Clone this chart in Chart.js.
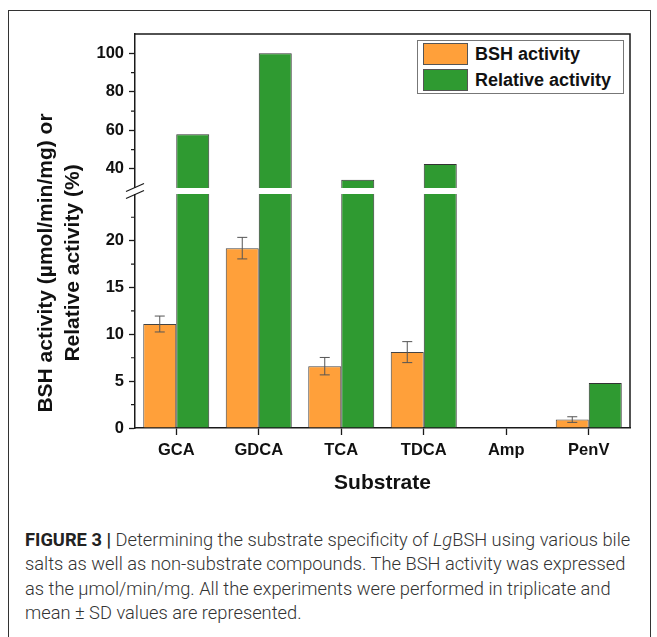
<!DOCTYPE html>
<html>
<head>
<meta charset="utf-8">
<script src="https://cdn.jsdelivr.net/npm/chart.js@4.4.0/dist/chart.umd.min.js"></script>
<style>
  html, body { margin: 0; padding: 0; background: #fff; }
  body { width: 657px; height: 637px; position: relative; overflow: hidden; font-family: 'Liberation Sans', Arial, sans-serif; }
  #frame { position: absolute; left: 8px; top: 10px; width: 643px; height: 640px; border: 1.3px solid #333; box-sizing: border-box; }
  #chartBox { position: absolute; left: 0; top: 0; width: 657px; height: 500px; }
  #legend { position: absolute; left: 417px; top: 40px; width: 207px; height: 54px; border: 1px solid #777; box-sizing: border-box; background: #fff; }
  .item { position: absolute; left: 5px; height: 23px; font-weight: bold; font-size: 18px; color: #111; line-height: 23px; white-space: nowrap; }
  .sw { display: inline-block; width: 45px; height: 22px; border: 1px solid #555; box-sizing: border-box; vertical-align: top; margin-right: 7px; }
  #caption { position: absolute; left: 25px; top: 528px; font-family: 'Roboto', 'Liberation Sans', sans-serif; font-weight: 300; font-size: 18.3px; line-height: 24.3px; color: #333; white-space: nowrap; }
  #caption b { font-weight: bold; color: #222; }
</style>
</head>
<body>
<div id="frame"></div>
<div id="chartBox"><canvas id="bshChart" width="657" height="500"></canvas></div>
<div id="legend">
  <div class="item" style="top:2px"><span class="sw" style="background:#FFA03A"></span>BSH activity</div>
  <div class="item" style="top:28px"><span class="sw" style="background:#2F9A31"></span>Relative activity</div>
</div>
<div id="caption">
  <div><b>FIGURE 3 |</b> Determining the substrate specificity of <i>Lg</i>BSH using various bile</div>
  <div>salts as well as non-substrate compounds. The BSH activity was expressed</div>
  <div>as the µmol/min/mg. All the experiments were performed in triplicate and</div>
  <div>mean ± SD values are represented.</div>
</div>
<script>
// Substrate specificity data
const substrates = ['GCA', 'GDCA', 'TCA', 'TDCA', 'Amp', 'PenV'];
const bshActivity = [11.1, 19.2, 6.6, 8.1, 0, 0.9];
const bshError = [0.85, 1.15, 0.93, 1.12, 0, 0.3];
const relativeActivity = [58, 100, 34.3, 42.5, 0, 4.8];

// Broken axis ranges and ticks
const topRange = [28.5, 110];
const bottomRange = [0, 25.3];
const topTicks = [40, 60, 80, 100];
const bottomTicks = [0, 5, 10, 15, 20];
const topMinor = [50, 70, 90];
const bottomMinor = [2.5, 7.5, 12.5, 17.5, 22.5];

const ORANGE = '#FFA03A';
const GREEN = '#2F9A31';
const AXIS = '#1a1a1a';

// split relative activity over the two axis segments
const relTop = relativeActivity.map(v => v > topRange[0] ? v : null);
const relBottom = relativeActivity.map(v => Math.min(v, bottomRange[1]));

const brokenAxis = {
    id: 'brokenAxis',
    afterDatasetsDraw(chart) {
        const { ctx, chartArea: a, scales } = chart;
        const yTop = scales.yTop, yBot = scales.yBottom;
        ctx.save();

        // error bars on BSH activity
        ctx.strokeStyle = '#555';
        ctx.lineWidth = 1;
        chart.getDatasetMeta(0).data.forEach((bar, i) => {
            if (!bshError[i]) return;
            const hi = yBot.getPixelForValue(bshActivity[i] + bshError[i]);
            const lo = yBot.getPixelForValue(bshActivity[i] - bshError[i]);
            ctx.beginPath();
            ctx.moveTo(bar.x, hi); ctx.lineTo(bar.x, lo);
            ctx.moveTo(bar.x - 5, hi); ctx.lineTo(bar.x + 5, hi);
            ctx.moveTo(bar.x - 5, lo); ctx.lineTo(bar.x + 5, lo);
            ctx.stroke();
        });

        // white break band
        const yb = yTop.bottom;
        ctx.fillStyle = '#fff';
        ctx.fillRect(a.left - 3, yb - 3, a.right - a.left + 2, 6);

        // break marks
        ctx.strokeStyle = AXIS;
        ctx.lineWidth = 1.3;
        [-3.5, 3.5].forEach(d => {
            ctx.beginPath();
            ctx.moveTo(a.left - 9, yb + d + 4);
            ctx.lineTo(a.left + 9, yb + d - 4);
            ctx.stroke();
        });

        // minor ticks
        ctx.lineWidth = 1.2;
        ctx.beginPath();
        topMinor.forEach(v => {
            const y = yTop.getPixelForValue(v);
            ctx.moveTo(a.left - 4, y); ctx.lineTo(a.left, y);
        });
        bottomMinor.forEach(v => {
            const y = yBot.getPixelForValue(v);
            ctx.moveTo(a.left - 4, y); ctx.lineTo(a.left, y);
        });
        ctx.stroke();

        // top and right frame
        ctx.lineWidth = 1.5;
        ctx.beginPath();
        ctx.moveTo(a.left, a.top);
        ctx.lineTo(a.right, a.top);
        ctx.lineTo(a.right, a.bottom);
        ctx.stroke();

        // y axis title
        ctx.fillStyle = '#111';
        ctx.font = 'bold 21px "Liberation Sans", Arial, sans-serif';
        ctx.textAlign = 'center';
        ctx.textBaseline = 'middle';
        ctx.translate(0, 263);
        ctx.rotate(-Math.PI / 2);
        ctx.fillText('BSH activity (µmol/min/mg) or', 0, 46);
        ctx.fillText('Relative activity (%)', 0, 73);
        ctx.restore();
    }
};

const tickFont = { family: '"Liberation Sans", Arial, sans-serif', size: 16.5, weight: 'bold' };

function yAxis(range, ticks, weight) {
    return {
        type: 'linear',
        position: 'left',
        stack: 'y',
        stackWeight: weight,
        stacked: false,
        min: range[0],
        max: range[1],
        afterBuildTicks: axis => { axis.ticks = ticks.map(v => ({ value: v })); },
        afterFit: axis => { axis.width = 135; },
        border: { display: true, color: AXIS, width: 1.5 },
        grid: { display: true, drawOnChartArea: false, drawTicks: true, tickLength: 6, color: AXIS, tickWidth: 1.3 },
        ticks: { font: tickFont, color: '#111', padding: 5 }
    };
}

new Chart(document.getElementById('bshChart'), {
    type: 'bar',
    data: {
        labels: substrates,
        datasets: [
            {
                label: 'BSH activity',
                data: bshActivity,
                yAxisID: 'yBottom',
                stack: 'bsh',
                backgroundColor: ORANGE,
                borderColor: '#444',
                borderWidth: 1
            },
            {
                label: 'Relative activity',
                data: relTop,
                yAxisID: 'yTop',
                stack: 'rel',
                backgroundColor: GREEN,
                borderColor: '#333',
                borderWidth: 1
            },
            {
                label: 'Relative activity (lower)',
                data: relBottom,
                yAxisID: 'yBottom',
                stack: 'rel',
                backgroundColor: GREEN,
                borderColor: '#333',
                borderWidth: 1
            }
        ]
    },
    options: {
        responsive: false,
        animation: false,
        layout: { padding: { top: 34, right: 27, left: 0, bottom: 0 } },
        datasets: { bar: { categoryPercentage: 0.8, barPercentage: 1.0 } },
        plugins: { legend: { display: false }, tooltip: { enabled: false } },
        scales: {
            x: {
                afterFit: axis => { axis.height = 72; },
                border: { display: true, color: AXIS, width: 1.5 },
                grid: { display: true, offset: false, drawOnChartArea: false, drawTicks: true, tickLength: 7, color: AXIS, tickWidth: 1.3 },
                ticks: { font: tickFont, color: '#111', padding: 6 },
                title: {
                    display: true,
                    text: 'Substrate',
                    color: '#111',
                    font: { family: '"Liberation Sans", Arial, sans-serif', size: 21, weight: 'bold' },
                    padding: { top: 0, bottom: 4 }
                }
            },
            yBottom: yAxis(bottomRange, bottomTicks, 237),
            yTop: yAxis(topRange, topTicks, 157)
        }
    },
    plugins: [brokenAxis]
});
</script>
</body>
</html>
